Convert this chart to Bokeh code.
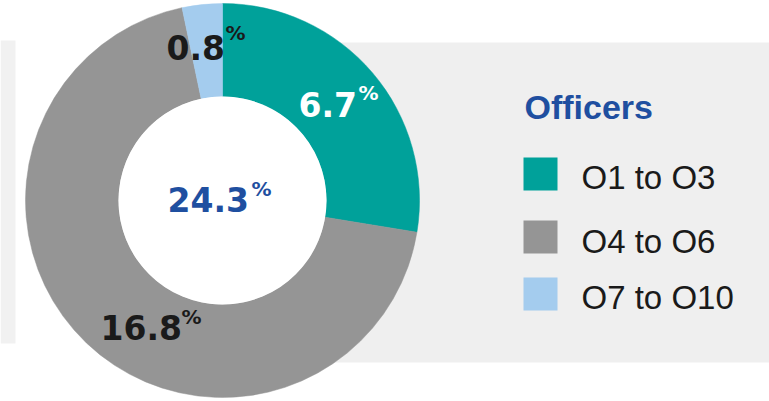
import math
from bokeh.plotting import figure
from bokeh.models import Range1d
from bokeh.core.properties import value
from bokeh.embed import file_html
from bokeh.resources import INLINE

# ---- data ----
categories = ["O1 to O3", "O4 to O6", "O7 to O10"]
shares = [6.7, 16.8, 0.8]
colors = ["#00A19A", "#959595", "#A4CCEE"]
legend_title = "Officers"

total = sum(shares)

# ---- figure (data units == window pixels; y measured upward) ----
W, H = 769, 401
p = figure(width=W, height=H, output_backend="svg", toolbar_location=None,
           x_axis_location=None, y_axis_location=None, min_border=0,
           x_range=Range1d(0, W), y_range=Range1d(0, H))
p.outline_line_color = None
p.grid.visible = False
p.background_fill_color = "white"
p.border_fill_color = "white"

TXT = 11  # baseline correction for text rendering


def Y(py):
    return H - py


def YT(py):
    return H - py + TXT


# background panels
p.quad(left=[222], right=[W], top=[Y(42)], bottom=[Y(362)],
       fill_color="#EFEFEF", line_color=None)
p.quad(left=[0], right=[15], top=[Y(40)], bottom=[Y(343)],
       fill_color="#F1F1F1", line_color=None)

# donut
cx, cy = 222, Y(200)
r_in, r_out = 104, 197
starts, ends = [], []
acc = 0.0
for v in shares:
    starts.append(math.pi / 2 - 2 * math.pi * acc / total)
    acc += v
    ends.append(math.pi / 2 - 2 * math.pi * acc / total)
p.annular_wedge(x=[cx] * len(shares), y=[cy] * len(shares),
                inner_radius=r_in, outer_radius=r_out,
                start_angle=starts, end_angle=ends, direction="clock",
                fill_color=colors, line_color=colors, line_width=0.5)
p.circle(x=[cx], y=[cy], radius=r_in, fill_color="white", line_color=None)

num_font = value("DejaVu Sans")
# slice labels: (number left, number baseline, % left, % baseline, colour)
label_pos = [
    (298, 115, 358, 103, "white"),
    (100, 338, 181, 327, "#1A1A1A"),
    (166, 58, 225, 43, "#1A1A1A"),
]
for v, (nx, ny, qx, qy, col) in zip(shares, label_pos):
    p.text(x=[nx], y=[YT(ny)], text=[f"{v:.1f}"], text_font=num_font,
           text_font_style="bold", text_font_size="33px", text_color=col,
           text_align="left", text_baseline="alphabetic")
    p.text(x=[qx], y=[YT(qy)], text=["%"], text_font=num_font,
           text_font_style="bold", text_font_size="20px", text_color=col,
           text_align="left", text_baseline="alphabetic")

blue = "#1F4FA0"
p.text(x=[167], y=[YT(210)], text=[f"{total:.1f}"], text_font=num_font,
       text_font_style="bold", text_font_size="33px", text_color=blue,
       text_align="left", text_baseline="alphabetic")
p.text(x=[251], y=[YT(199)], text=["%"], text_font=num_font,
       text_font_style="bold", text_font_size="20px", text_color=blue,
       text_align="left", text_baseline="alphabetic")

# legend
p.text(x=[524], y=[YT(117)], text=[legend_title], text_font=value("Liberation Sans"),
       text_font_style="bold", text_font_size="34px", text_color=blue,
       text_align="left", text_baseline="alphabetic")
sq_tops = [157, 220, 277]
txt_base = [188, 252, 308]
p.rect(x=[540] * 3, y=[Y(t + 16.5) for t in sq_tops], width=34, height=33,
       fill_color=colors, line_color=None)
p.text(x=[581] * 3, y=[YT(b) for b in txt_base], text=categories,
       text_font=value("Liberation Sans"), text_font_size="33px",
       text_color="#1A1A1A", text_align="left", text_baseline="alphabetic")

open("out.html", "w").write(file_html(p, INLINE))
